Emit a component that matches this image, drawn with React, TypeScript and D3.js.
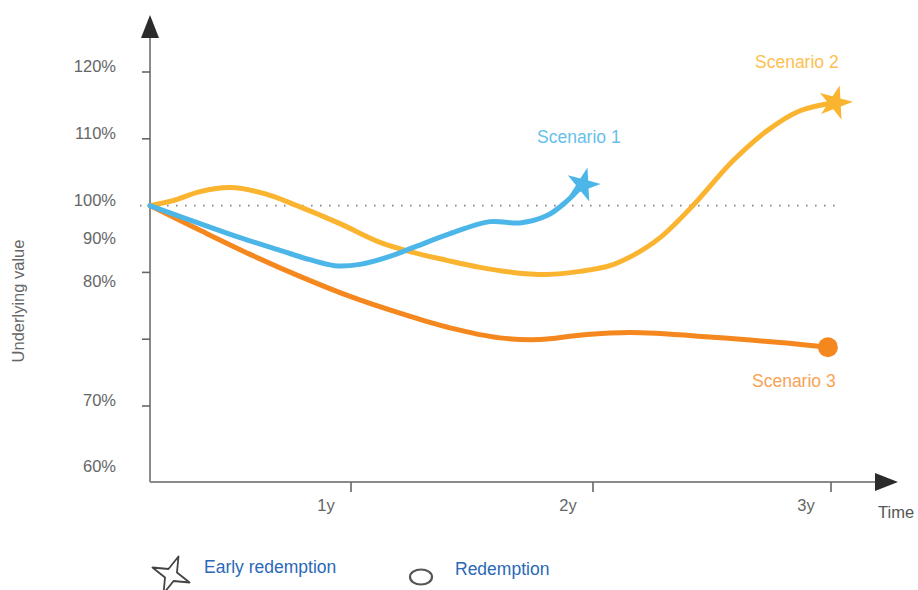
import React from "react";
import * as d3 from "d3";

// ---------- data ----------
const yTickValues = [120, 110, 100, 90, 80, 70];
const yLabelTexts = ["120%", "110%", "100%", "90%", "80%", "70%", "60%"];
const yLabelAt = [120, 110, 100, 94.25, 87.8, 70, 60.1];

const xTickValues = [1, 2, 3];
const xTickLabels = ["1y", "2y", "3y"];

const s1Time = [0, 0.249, 0.448, 0.647, 0.796, 0.92, 1.037, 1.161, 1.256, 1.409, 1.574, 1.698, 1.81, 1.893, 1.958];
const s1Value = [100, 97.3, 95.2, 93.3, 91.9, 91.0, 91.2, 92.4, 93.7, 95.8, 97.6, 97.4, 98.5, 100.7, 103.1];

const s2Time = [0, 0.114, 0.249, 0.398, 0.57, 0.731, 0.945, 1.12, 1.256, 1.397, 1.533, 1.669, 1.81, 1.946, 2.071, 2.176, 2.282, 2.42, 2.588, 2.731, 2.87, 3.017];
const s2Value = [100, 100.75, 102.1, 102.7, 101.8, 100, 97.3, 94.5, 93.0, 91.8, 90.75, 90.0, 89.7, 90.15, 91.0, 92.7, 95.2, 100, 106.7, 111.2, 114.2, 115.4];

const s3Time = [0, 0.249, 0.498, 0.746, 0.995, 1.202, 1.409, 1.616, 1.781, 1.946, 2.155, 2.504, 2.786, 2.987];
const s3Value = [100, 96.3, 92.7, 89.4, 86.4, 83.9, 81.7, 80.2, 79.95, 80.6, 81.0, 80.3, 79.5, 78.8];

const seriesNames = ["Scenario 1", "Scenario 2", "Scenario 3"];
const legendLabels = ["Early redemption", "Redemption"];
const referenceLevel = 100;
const referenceEnd = 3.02;

// ---------- layout ----------
const W = 918;
const H = 590;
const X0 = 150;
const YBOTTOM = 482;
const YTOP = 37;
const XRIGHT = 876;
const FONT = "'Liberation Sans', Arial, Helvetica, sans-serif";

const xScale = d3.scaleLinear().domain([0, 1, 2, 3]).range([X0, 351, 593, 831]);
const yScale = d3.scaleLinear().domain([70, 120]).range([406, 72]);

const lineGen = d3
  .line<[number, number]>()
  .x((d) => xScale(d[0]))
  .y((d) => yScale(d[1]))
  .curve(d3.curveCatmullRom.alpha(0.5));

const zip = (t: number[], v: number[]) => t.map((tt, i) => [tt, v[i]] as [number, number]);

const starPath = d3.symbol(d3.symbolStar, 360)() as string;

function sparkle(cx: number, cy: number, rOut: number, rIn: number, rot: number) {
  const pts: [number, number][] = [];
  for (let i = 0; i < 8; i++) {
    const a = (rot + i * 45) * (Math.PI / 180);
    const r = i % 2 === 0 ? rOut : rIn;
    pts.push([cx + r * Math.cos(a), cy + r * Math.sin(a)]);
  }
  return d3.line().curve(d3.curveLinearClosed)(pts) as string;
}

export default function App() {
  const s1 = zip(s1Time, s1Value);
  const s2 = zip(s2Time, s2Value);
  const s3 = zip(s3Time, s3Value);
  const blue = "#4db6e8";
  const yellow = "#fbb430";
  const orange = "#f5871f";
  const last1 = s1[s1.length - 1];
  const last2 = s2[s2.length - 1];
  const last3 = s3[s3.length - 1];

  return (
    <svg
      width={W}
      height={H}
      style={{ position: "absolute", left: 0, top: 0, background: "#fff" }}
      fontFamily={FONT}
    >
      {/* reference dotted line */}
      <line
        x1={140}
        x2={xScale(referenceEnd)}
        y1={yScale(referenceLevel)}
        y2={yScale(referenceLevel)}
        stroke="#888"
        strokeWidth={1.6}
        strokeDasharray="1.6 7.4"
      />

      {/* axes */}
      <line x1={X0} x2={X0} y1={YBOTTOM} y2={YTOP} stroke="#8a8a8a" strokeWidth={2} />
      <line x1={X0} x2={XRIGHT} y1={YBOTTOM} y2={YBOTTOM} stroke="#8a8a8a" strokeWidth={2} />
      <path d={`M${X0},15 L${X0 - 9},${YTOP + 1} L${X0 + 9},${YTOP + 1} Z`} fill="#2b2b2b" />
      <path d={`M898,${YBOTTOM} L${XRIGHT - 1},${YBOTTOM - 9} L${XRIGHT - 1},${YBOTTOM + 9} Z`} fill="#2b2b2b" />

      {yTickValues.map((v) =>
        v === referenceLevel ? null : (
          <line key={v} x1={X0 - 8} x2={X0} y1={yScale(v)} y2={yScale(v)} stroke="#666" strokeWidth={1.6} />
        )
      )}
      {yLabelTexts.map((t, i) => (
        <text
          key={t}
          x={116}
          y={yScale(yLabelAt[i]) - 4}
          textAnchor="end"
          dominantBaseline="middle"
          fontSize={16.5}
          fill="#666"
        >
          {t}
        </text>
      ))}

      {xTickValues.map((v, i) => (
        <g key={v}>
          <line x1={xScale(v)} x2={xScale(v)} y1={YBOTTOM} y2={YBOTTOM + 10} stroke="#666" strokeWidth={1.6} />
          <text x={xScale(v) - 25} y={YBOTTOM + 29} textAnchor="middle" fontSize={16.5} fill="#666">
            {xTickLabels[i]}
          </text>
        </g>
      ))}
      <text x={878} y={518} fontSize={16.5} fill="#555">
        Time
      </text>
      <text
        transform={`translate(24,301) rotate(-90)`}
        textAnchor="middle"
        fontSize={16.5}
        fill="#666"
      >
        Underlying value
      </text>

      {/* series */}
      <path d={lineGen(s3) as string} fill="none" stroke={orange} strokeWidth={5} strokeLinecap="round" />
      <path d={lineGen(s2) as string} fill="none" stroke={yellow} strokeWidth={5} strokeLinecap="round" />
      <path d={lineGen(s1) as string} fill="none" stroke={blue} strokeWidth={5} strokeLinecap="round" />

      <path
        d={starPath}
        transform={`translate(${xScale(last1[0])},${yScale(last1[1])}) rotate(15)`}
        fill={blue}
      />
      <path
        d={starPath}
        transform={`translate(${xScale(last2[0])},${yScale(last2[1])}) rotate(15)`}
        fill={yellow}
      />
      <circle cx={xScale(last3[0])} cy={yScale(last3[1])} r={10} fill={orange} />

      {/* scenario labels */}
      <text x={537} y={143} fontSize={17.5} fill="#66c0ea">
        {seriesNames[0]}
      </text>
      <text x={755} y={68} fontSize={17.5} fill="#fcc04f">
        {seriesNames[1]}
      </text>
      <text x={752} y={387} fontSize={17.5} fill="#f8a255">
        {seriesNames[2]}
      </text>

      {/* legend */}
      <path d={sparkle(171, 575, 20, 6.5, 22)} fill="#fff" stroke="#444" strokeWidth={1.8} strokeLinejoin="round" />
      <text x={204} y={573} fontSize={17.5} fill="#2a68b8">
        {legendLabels[0]}
      </text>
      <ellipse cx={421} cy={577} rx={11} ry={7.5} fill="#fff" stroke="#555" strokeWidth={2.2} />
      <text x={455} y={575} fontSize={17.5} fill="#2a68b8">
        {legendLabels[1]}
      </text>
    </svg>
  );
}
